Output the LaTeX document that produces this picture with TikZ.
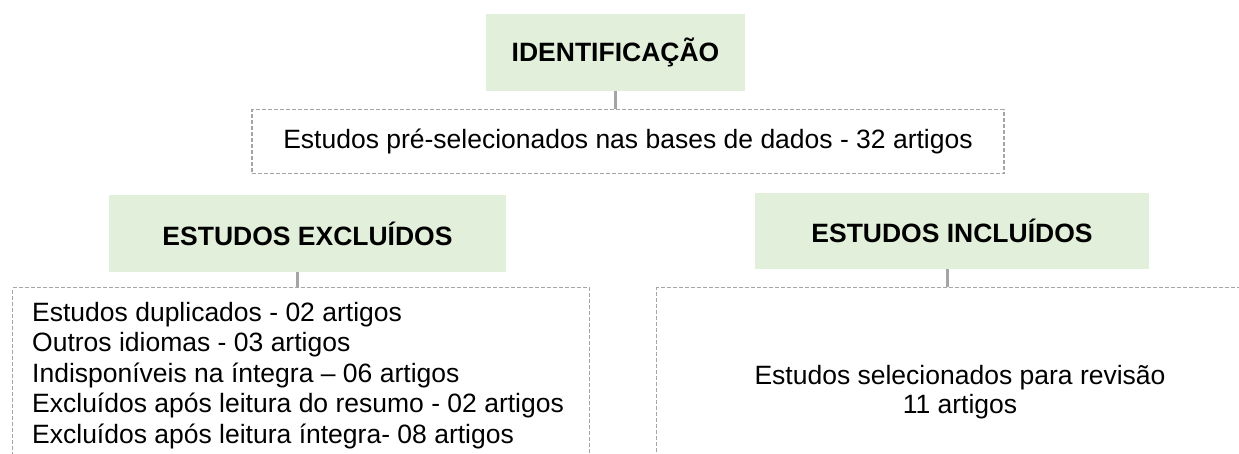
\documentclass[tikz,border=0pt]{standalone}
\usepackage{fontspec}
\setmainfont{Liberation Sans}
\usetikzlibrary{positioning}
\definecolor{boxgreen}{HTML}{E2EFDA}
\definecolor{linegray}{HTML}{A5A5A5}
\tikzset{
  head/.style={fill=boxgreen, inner sep=0pt, font=\fontsize{26.5}{30}\selectfont\bfseries},
  dbox/.style={draw=linegray, dash pattern=on 4pt off 2pt, line width=1.2pt, inner sep=0pt},
  txt/.style={inner sep=0pt, font=\fontsize{26.5}{30.5}\selectfont},
  link/.style={draw=linegray, line width=3pt}
}

\begin{document}
\begin{tikzpicture}[x=1pt, y=-1pt]
    \useasboundingbox (0,0) rectangle (1239,454);
    \clip (0,0) rectangle (1239,454);

    \node[head, minimum width=259pt, minimum height=77pt] (id) at (615.5,52.5) {IDENTIFICAÇÃO};
    \node[dbox, txt, minimum width=752pt, minimum height=64pt, below=18pt of id, xshift=12.5pt] (pre) {Estudos pré-selecionados nas bases de dados - 32 artigos};

    \node[head, minimum width=397pt, minimum height=77pt] (exc) at (307.5,233.5) {ESTUDOS EXCLUÍDOS};
    \node[head, minimum width=394pt, minimum height=76pt] (inc) at (952,231) {ESTUDOS INCLUÍDOS};

    \node[dbox, minimum width=577pt, minimum height=200pt, anchor=north west] (exbox) at (12,287) {};
    \node[dbox, minimum width=594pt, minimum height=200pt, anchor=north west] (inbox) at (656,287) {};

    \node[txt, align=left, anchor=north west] (exlist) at (32,302) {Estudos duplicados - 02 artigos\\
        Outros idiomas - 03 artigos\\
        Indisponíveis na íntegra – 06 artigos\\
        Excluídos após leitura do resumo - 02 artigos\\
        Excluídos após leitura íntegra- 08 artigos};
    \node[txt, align=center, font=\fontsize{26.5}{28.5}\selectfont] (inlist) at (960,392) {Estudos selecionados para revisão\\ 11 artigos};

    \draw[link] (id.south) -- (id.south |- pre.north);
    \draw[link] ([xshift=-10pt]exc.south) -- ([xshift=-10pt]exc.south |- exbox.north);
    \draw[link] ([xshift=-5pt]inc.south) -- ([xshift=-5pt]inc.south |- inbox.north);
\end{tikzpicture}
\end{document}
